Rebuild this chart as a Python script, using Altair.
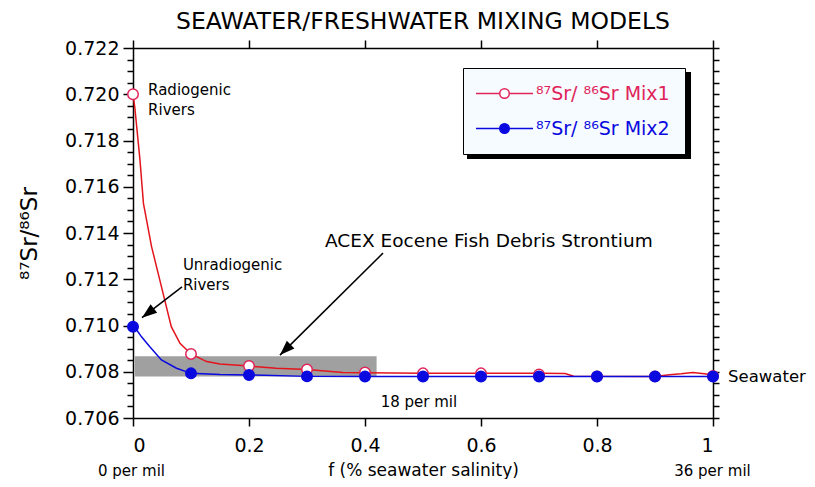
import math
import altair as alt
import pandas as pd

FONT = "DejaVu Sans"
RED_LINE = "#e3141c"
RED_MARK = "#e0245a"
BLUE = "#0a0ae0"

# ---------------- data ----------------
series_names = ["⁸⁷Sr/ ⁸⁶Sr Mix1", "⁸⁷Sr/ ⁸⁶Sr Mix2"]
series_keys = ["Mix1", "Mix2"]

marker_f = [0.0, 0.1, 0.2, 0.3, 0.4, 0.5, 0.6, 0.7, 0.8, 0.9, 1.0]
mix1_marker_sr = [0.72000, 0.70877, 0.70825, 0.70810, 0.70797, 0.70793, 0.70793,
                  0.70788, 0.70780, 0.70780, 0.70782]
mix2_marker_sr = [0.70995, 0.70793, 0.70786, 0.70780, 0.70779, 0.70779, 0.70779,
                  0.70779, 0.70779, 0.70779, 0.70779]

mix1_curve_f = [0.0, 0.003, 0.012, 0.018, 0.032, 0.049, 0.066, 0.081, 0.100, 0.127,
                0.150, 0.200, 0.247, 0.300, 0.362, 0.400, 0.500, 0.600, 0.700, 0.745,
                0.760, 0.800, 0.900, 0.925, 0.945, 0.965, 0.985, 1.0]
mix1_curve_sr = [0.72000, 0.71946, 0.71716, 0.71528, 0.71341, 0.71168, 0.70995, 0.70923,
                 0.70877, 0.70844, 0.70834, 0.70825, 0.70815, 0.70810, 0.70797, 0.70796,
                 0.70794, 0.70794, 0.70793, 0.70792, 0.70781, 0.70780, 0.70780, 0.70787,
                 0.70791, 0.70797, 0.70791, 0.70786]

mix2_curve_f = [0.0, 0.008, 0.015, 0.029, 0.049, 0.075, 0.100, 0.150, 0.200, 0.300, 0.400, 1.0]
mix2_curve_sr = [0.70995, 0.70975, 0.70950, 0.70908, 0.70851, 0.70815, 0.70793, 0.70788,
                 0.70786, 0.70780, 0.70779, 0.70779]

# ACEX Eocene fish debris Sr range (grey band)
acex_f = [0.003, 0.42]
acex_sr = [0.70779, 0.70867]

x_tick_values = [0, 0.2, 0.4, 0.6, 0.8, 1.0]
y_major_ticks = [0.706, 0.708, 0.710, 0.712, 0.714, 0.716, 0.718, 0.720, 0.722]
y_all_ticks = [round(0.706 + i * 0.0005, 4) for i in range(33)]

# annotation anchors (data coordinates)
note_text = ["Radiogenic", "Rivers", "Unradiogenic", "Rivers",
             "ACEX Eocene Fish Debris Strontium"]
note_f = [0.026, 0.026, 0.086, 0.086, 0.331]
note_sr = [0.72018, 0.71932, 0.71262, 0.71175, 0.71365]
note_size = [15, 15, 15, 15, 18.5]

small_text = ["18 per mil", "0 per mil", "36 per mil"]
small_f = [0.493, -0.0026, 0.9991]
small_sr = [0.70668, 0.70369, 0.70369]

arrow_f = [0.0845, 0.431]
arrow_sr = [0.71167, 0.71313]
arrow_f2 = [0.0155, 0.2534]
arrow_sr2 = [0.71034, 0.70872]

# legend drop shadow (data coordinates)
shadow_f = [0.5759, 0.9621]
shadow_sr = [0.71720, 0.72096]

W, H = 580, 370
YMIN, YMAX = 0.706, 0.722

# ---------------- tables ----------------
curves = pd.DataFrame({
    "f": mix1_curve_f + mix2_curve_f,
    "sr": mix1_curve_sr + mix2_curve_sr,
    "key": [series_keys[0]] * len(mix1_curve_f) + [series_keys[1]] * len(mix2_curve_f),
})
markers = pd.DataFrame({
    "f": marker_f + marker_f,
    "sr": mix1_marker_sr + mix2_marker_sr,
    "series": [series_names[0]] * len(marker_f) + [series_names[1]] * len(marker_f),
})
band = pd.DataFrame({"f": [acex_f[0]], "f2": [acex_f[1]],
                     "sr": [acex_sr[0]], "sr2": [acex_sr[1]]})
shadow = pd.DataFrame({"f": [shadow_f[0]], "f2": [shadow_f[1]],
                       "sr": [shadow_sr[0]], "sr2": [shadow_sr[1]]})
notes = pd.DataFrame({"f": note_f, "sr": note_sr, "text": note_text, "size": note_size})
smalls = pd.DataFrame({"f": small_f, "sr": small_sr, "text": small_text})
sea = pd.DataFrame({"f": [1.026], "sr": [0.70779], "text": ["Seawater"]})

px_f = W / 1.0
px_sr = H / (YMAX - YMIN)
angles = []
for a, b, c, d in zip(arrow_f, arrow_sr, arrow_f2, arrow_sr2):
    dx = (c - a) * px_f
    dy = -(d - b) * px_sr
    angles.append((math.degrees(math.atan2(dx, -dy)) + 360) % 360)
arrows = pd.DataFrame({"f": arrow_f, "sr": arrow_sr, "f2": arrow_f2, "sr2": arrow_sr2,
                       "angle": angles})

xscale = alt.Scale(domain=[0, 1], nice=False, zero=False)
yscale = alt.Scale(domain=[YMIN, YMAX], nice=False, zero=False)

major_test = "abs(datum.value * 500 - round(datum.value * 500)) < 0.01"

left_axis = alt.Axis(
    orient="left", values=y_all_ticks, grid=False,
    labelExpr=f"({major_test}) ? format(datum.value, '.3f') : ''",
    tickSize={"condition": {"test": major_test, "value": 10}, "value": 6},
    tickWidth=1.5, tickColor="black", domainWidth=1.5, domainColor="black",
    labelFont=FONT, labelFontSize=19, labelColor="black", labelPadding=4,
    title="⁸⁷Sr/⁸⁶Sr", titleFont=FONT, titleFontSize=23, titleFontWeight="normal",
    titleColor="black", titleX=-104, titleY=185, titleAngle=-90,
    titleAlign="center", titleBaseline="middle",
)
right_axis = alt.Axis(
    orient="right", values=y_all_ticks, grid=False, labels=False, title=None,
    tickSize=6, tickWidth=1.5, tickColor="black", domainWidth=1.5, domainColor="black",
)
bottom_axis = alt.Axis(
    orient="bottom", values=x_tick_values, format="~g", grid=False,
    tickSize=8, tickWidth=1.5, tickColor="black", domainWidth=1.5, domainColor="black",
    labelFont=FONT, labelFontSize=19, labelColor="black", labelPadding=10,
    title="f (% seawater salinity)", titleFont=FONT, titleFontSize=17,
    titleFontWeight="normal", titleColor="black", titlePadding=7,
)
top_axis = alt.Axis(
    orient="top", values=x_tick_values, grid=False, labels=False, title=None,
    tickSize=8, tickWidth=1.5, tickColor="black", domainWidth=1.5, domainColor="black",
)

band_layer = alt.Chart(band).mark_rect(color="#a0a0a0").encode(
    x=alt.X("f:Q", scale=xscale, axis=bottom_axis),
    x2="f2:Q",
    y=alt.Y("sr:Q", scale=yscale, axis=left_axis),
    y2="sr2:Q",
)

shadow_layer = alt.Chart(shadow).mark_rect(color="black").encode(
    x=alt.X("f:Q", scale=xscale, axis=None),
    x2="f2:Q",
    y=alt.Y("sr:Q", scale=yscale, axis=None),
    y2="sr2:Q",
)

line_layer = alt.Chart(curves).mark_line(strokeWidth=1.5).encode(
    x=alt.X("f:Q", scale=xscale, axis=top_axis),
    y=alt.Y("sr:Q", scale=yscale, axis=right_axis),
    color=alt.Color("key:N", scale=alt.Scale(domain=series_keys, range=[RED_LINE, BLUE]),
                    legend=None),
)

legend_symbol = ("M-3,0L-0.5,0M0.5,0L3,0"
                 "M-0.5,0A0.5,0.5,0,1,1,0.5,0A0.5,0.5,0,1,1,-0.5,0Z")
legend = alt.Legend(
    title=None, orient="none", legendX=330, legendY=20, direction="vertical",
    symbolType=legend_symbol, symbolSize=361, symbolStrokeWidth=1.5,
    labelFont=FONT, labelFontSize=19,
    labelColor=alt.ExprRef(f"indexof(datum.label, 'Mix1') >= 0 ? '{RED_MARK}' : '{BLUE}'"),
    padding=15, rowPadding=14, strokeColor="black", fillColor="#f6fbff",
    symbolOffset=16, labelOffset=21,
)

point_layer = alt.Chart(markers).mark_point(filled=True, size=110, strokeWidth=1.5,
                                             opacity=1).encode(
    x=alt.X("f:Q", scale=xscale, axis=None),
    y=alt.Y("sr:Q", scale=yscale, axis=None),
    stroke=alt.Stroke("series:N", scale=alt.Scale(domain=series_names,
                                                  range=[RED_MARK, BLUE]), legend=legend),
    fill=alt.Fill("series:N", scale=alt.Scale(domain=series_names,
                                              range=["white", BLUE]), legend=legend),
    order=alt.Order("series:N"),
)

arrow_line = alt.Chart(arrows).mark_rule(color="black", strokeWidth=1.5).encode(
    x=alt.X("f:Q", scale=xscale, axis=None),
    y=alt.Y("sr:Q", scale=yscale, axis=None),
    x2="f2:Q", y2="sr2:Q",
)
arrow_head = alt.Chart(arrows).mark_point(
    shape="M0,0L0.36,1L-0.36,1Z", size=900, filled=True, color="black", opacity=1,
    strokeWidth=0,
).encode(
    x=alt.X("f2:Q", scale=xscale, axis=None),
    y=alt.Y("sr2:Q", scale=yscale, axis=None),
    angle=alt.Angle("angle:Q", scale=None),
)

notes_layer = alt.Chart(notes).mark_text(font=FONT, align="left", baseline="middle",
                                         color="black").encode(
    x=alt.X("f:Q", scale=xscale, axis=None),
    y=alt.Y("sr:Q", scale=yscale, axis=None),
    text="text:N",
    size=alt.Size("size:Q", scale=None, legend=None),
)
smalls_layer = alt.Chart(smalls).mark_text(font=FONT, fontSize=15, align="center",
                                           baseline="middle", color="black").encode(
    x=alt.X("f:Q", scale=xscale, axis=None),
    y=alt.Y("sr:Q", scale=yscale, axis=None),
    text="text:N",
)
sea_layer = alt.Chart(sea).mark_text(font=FONT, fontSize=16.5, align="left",
                                     baseline="middle", color="black").encode(
    x=alt.X("f:Q", scale=xscale, axis=None),
    y=alt.Y("sr:Q", scale=yscale, axis=None),
    text="text:N",
)

chart = alt.layer(
    band_layer, shadow_layer, line_layer, point_layer, arrow_line, arrow_head,
    notes_layer, smalls_layer, sea_layer,
).resolve_axis(x="independent", y="independent").properties(
    width=W, height=H,
    autosize=alt.AutoSizeParams(type="none"),
    padding={"left": 125, "top": 40, "right": 94, "bottom": 61},
    title=alt.TitleParams("SEAWATER/FRESHWATER MIXING MODELS", font=FONT, fontSize=23.5,
                          fontWeight="normal", color="black", anchor="middle",
                          frame="group", offset=6),
).configure_view(
    stroke="black", strokeWidth=1.5
).configure_legend(
    strokeWidth=2
).configure(background="white")

chart.save("out.html", embed_options={"renderer": "svg", "actions": False})
